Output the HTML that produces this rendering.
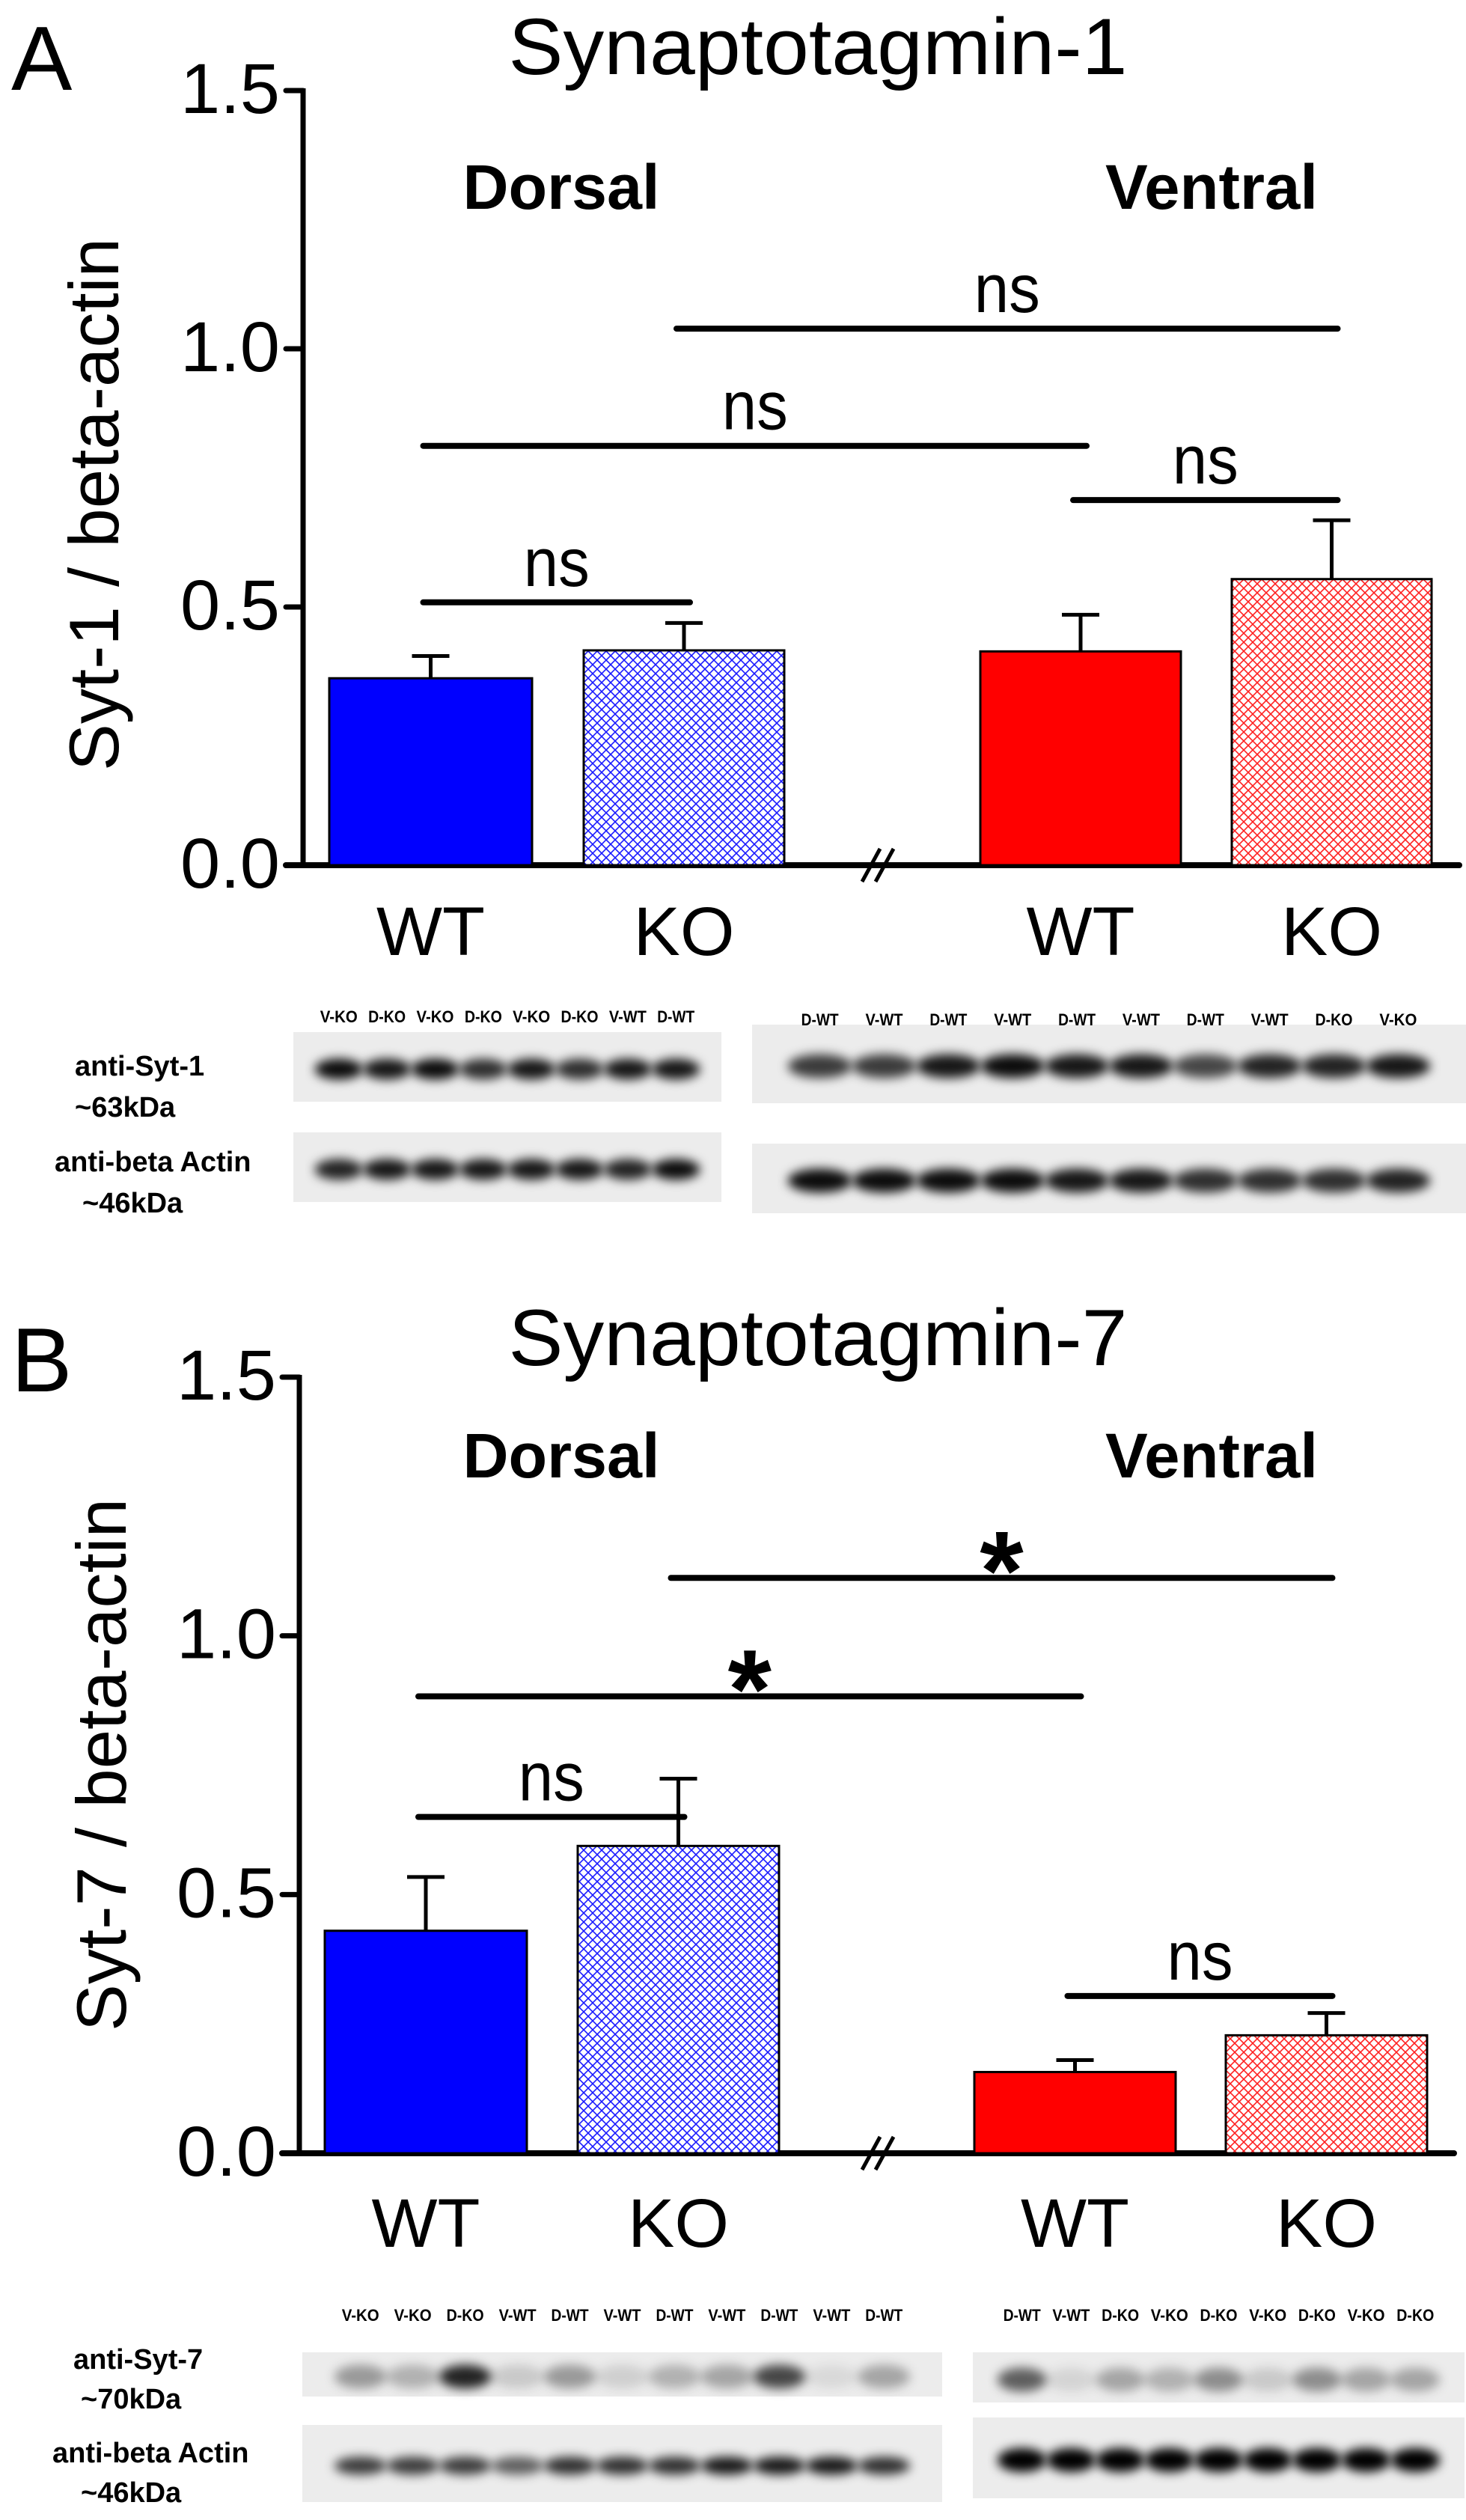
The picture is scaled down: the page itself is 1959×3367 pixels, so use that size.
<!DOCTYPE html>
<html><head><meta charset="utf-8"><style>
html,body{margin:0;padding:0;background:#fff}
svg{display:block}
text{font-family:"Liberation Sans",Arial,sans-serif}
</style></head><body>
<svg id="fig" width="1959" height="3367" viewBox="0 0 1959 3367" xmlns="http://www.w3.org/2000/svg">
<defs>
<pattern id="hatchBlue" width="12" height="12" patternUnits="userSpaceOnUse">
<rect width="12" height="12" fill="#fff"/>
<path d="M0,0L12,12M12,0L0,12" stroke="#1a1aff" stroke-width="1.6"/>
</pattern>
<pattern id="hatchRed" width="12" height="12" patternUnits="userSpaceOnUse">
<rect width="12" height="12" fill="#fff"/>
<path d="M0,0L12,12M12,0L0,12" stroke="#ff2020" stroke-width="1.6"/>
</pattern>
<filter id="blur" x="-20%" y="-60%" width="140%" height="220%"><feGaussianBlur stdDeviation="7"/></filter>
</defs>
<g id="panelA"></g>
<g id="panelB"></g>
</svg>
<script>
// ---- data ----
const groups = ["Dorsal WT","Dorsal KO","Ventral WT","Ventral KO"];
const tickLabels = ["0.0","0.5","1.0","1.5"];
const tickValues = [0,0.5,1.0,1.5];
const syt1Means = [0.362,0.416,0.414,0.554];
const syt1Errors = [0.043,0.053,0.071,0.114];
const syt7Means = [0.430,0.594,0.157,0.228];
const syt7Errors = [0.104,0.130,0.023,0.043];
const syt1Sig = [
  {from:0,to:1,y:0.509,label:"ns"},
  {from:0,to:2,y:0.812,label:"ns"},
  {from:1,to:3,y:1.039,label:"ns"},
  {from:2,to:3,y:0.707,label:"ns"}];
const syt7Sig = [
  {from:0,to:1,y:0.650,label:"ns"},
  {from:0,to:2,y:0.883,label:"*"},
  {from:1,to:3,y:1.112,label:"*"},
  {from:2,to:3,y:0.304,label:"ns"}];
const blotA1Left = ["V-KO","D-KO","V-KO","D-KO","V-KO","D-KO","V-WT","D-WT"];
const blotA1Right = ["D-WT","V-WT","D-WT","V-WT","D-WT","V-WT","D-WT","V-WT","D-KO","V-KO"];
const blotB1Left = ["V-KO","V-KO","D-KO","V-WT","D-WT","V-WT","D-WT","V-WT","D-WT","V-WT","D-WT"];
const blotB1Right = ["D-WT","V-WT","D-KO","V-KO","D-KO","V-KO","D-KO","V-KO","D-KO"];
const bandA_syt_L = [0.95,0.9,0.95,0.8,0.9,0.8,0.9,0.9];
const bandA_syt_R = [0.75,0.75,0.9,0.95,0.9,0.9,0.7,0.85,0.85,0.9];
const bandA_act_L = [0.85,0.9,0.9,0.9,0.9,0.9,0.85,0.95];
const bandA_act_R = [0.95,0.95,0.95,0.95,0.9,0.9,0.8,0.8,0.8,0.85];
const bandB_syt_L = [0.35,0.25,0.85,0.15,0.35,0.12,0.25,0.3,0.7,0.08,0.3];
const bandB_syt_R = [0.6,0.1,0.3,0.25,0.4,0.15,0.4,0.3,0.3];
const bandB_act_L = [0.75,0.75,0.75,0.6,0.8,0.8,0.8,0.9,0.9,0.9,0.8];
const bandB_act_R = [1,1,1,1,1,1,1,1,1];

const NS="http://www.w3.org/2000/svg";
function mk(parent,tag,attrs,txt){const e=document.createElementNS(NS,tag);for(const k in attrs)e.setAttribute(k,attrs[k]);if(txt!==undefined)e.textContent=txt;parent.appendChild(e);return e;}

function drawPanel(g,cfg){
  const y=v=>cfg.y0-(cfg.y0-cfg.y15)*v/1.5;
  const cx=i=>(cfg.barX[i][0]+cfg.barX[i][1])/2;
  let t=mk(g,'text',{x:cfg.letterX,y:cfg.letterY,'font-size':122},cfg.letter);
  
  t=mk(g,'text',{x:1093,y:cfg.titleY,'font-size':107,'text-anchor':'middle',textLength:827,lengthAdjust:'spacingAndGlyphs'},cfg.title);
  
  // y axis
  let l=mk(g,'line',{x1:cfg.axX,y1:y(1.5)-3,x2:cfg.axX,y2:y(0)+3,stroke:'#000','stroke-width':7});
  
  tickValues.forEach((v,i)=>{
    const tk=mk(g,'line',{x1:cfg.tickL,y1:y(v),x2:cfg.axX,y2:y(v),stroke:'#000','stroke-width':7,'stroke-linecap':'round'});
    
    const tl=mk(g,'text',{x:cfg.tickL-8,y:y(v)+30,'font-size':95,'text-anchor':'end',textLength:133,lengthAdjust:'spacingAndGlyphs'},tickLabels[i]);
    
  });
  t=mk(g,'text',{x:0,y:0,'font-size':94,'text-anchor':'middle',textLength:712,lengthAdjust:'spacingAndGlyphs',transform:`translate(${cfg.ylabX},${cfg.ylabY}) rotate(-90)`},cfg.ylabel);
  
  // x axis
  l=mk(g,'line',{x1:cfg.tickL,y1:y(0),x2:cfg.axR,y2:y(0),stroke:'#000','stroke-width':8,'stroke-linecap':'round'});
  
  const bx=1174;
  [-10,8].forEach(d=>{const b=mk(g,'line',{x1:bx+d-12,y1:y(0)+22,x2:bx+d+12,y2:y(0)-22,stroke:'#000','stroke-width':5});
    });
  // bars
  const fills=['#0000ff','url(#hatchBlue)','#ff0000','url(#hatchRed)'];
  cfg.means.forEach((m,i)=>{
    const x0=cfg.barX[i][0],x1=cfg.barX[i][1];
    const top=y(m+cfg.errs[i]);
    const e=mk(g,'line',{x1:cx(i),y1:y(m),x2:cx(i),y2:top,stroke:'#000','stroke-width':5});
    
    const c=mk(g,'line',{x1:cx(i)-25,y1:top,x2:cx(i)+25,y2:top,stroke:'#000','stroke-width':5});
    
    const r=mk(g,'rect',{x:x0,y:y(m),width:x1-x0,height:y(0)-y(m),fill:fills[i],stroke:'#000','stroke-width':3});
    
    const xl=mk(g,'text',{x:cx(i),y:cfg.xlabY,'font-size':92,'text-anchor':'middle',textLength:i%2?135:145,lengthAdjust:'spacingAndGlyphs'},i%2?'KO':'WT');
    
  });
  t=mk(g,'text',{x:750,y:cfg.regY,'font-size':84,'font-weight':'bold','text-anchor':'middle',textLength:263,lengthAdjust:'spacingAndGlyphs'},'Dorsal');
  
  t=mk(g,'text',{x:1619,y:cfg.regY,'font-size':84,'font-weight':'bold','text-anchor':'middle',textLength:284,lengthAdjust:'spacingAndGlyphs'},'Ventral');
  
  // significance
  cfg.sig.forEach(s=>{
    const xa=cx(s.from)-10,xb=cx(s.to)+8;
    const ln=mk(g,'line',{x1:xa,y1:y(s.y),x2:xb,y2:y(s.y),stroke:'#000','stroke-width':8,'stroke-linecap':'round'});
    
    const mid=(xa+xb)/2;
    let lt;
    if(s.label==='ns') lt=mk(g,'text',{x:mid,y:y(s.y)-22,'font-size':92,'text-anchor':'middle',textLength:88,lengthAdjust:'spacingAndGlyphs'},'ns');
    else lt=mk(g,'text',{x:mid,y:y(s.y)+42,'font-size':150,'font-weight':'bold','text-anchor':'middle'},'*');
    
  });
}

function drawBlot(g,x0,x1,y0,y1,bands,lanes,labelY,bandW){
  const r=mk(g,'rect',{x:x0,y:y0,width:x1-x0,height:y1-y0,fill:'#ececec'});
  
  const n=bands.length, pad=(x1-x0)*0.05, w=(x1-x0-2*pad)/n;
  bands.forEach((v,i)=>{
    const cxp=x0+pad+w*(i+0.5);
    const e=mk(g,'ellipse',{cx:cxp,cy:(y0+y1)/2+3,rx:w*0.5,ry:bandW,fill:'#000','fill-opacity':v,filter:'url(#blur)'});
    
  });
  if(lanes){lanes.forEach((s,i)=>{
    const cxp=x0+pad+w*(i+0.5);
    const t=mk(g,'text',{x:cxp,y:labelY,'font-size':22,'font-weight':'bold','text-anchor':'middle',textLength:50,lengthAdjust:'spacingAndGlyphs'},s);
    
  });}
}
function blotLabel(g,x,yy,txt){const t=mk(g,'text',{x:x,y:yy,'font-size':38,'font-weight':'bold'},txt);
  }

const gA=document.getElementById('panelA');
drawPanel(gA,{letter:'A',letterX:15,letterY:120,title:'Synaptotagmin-1',titleY:99,y0:1156,y15:121,axX:405,tickL:382,axR:1950,
  barX:[[440,711],[780,1048],[1310,1578],[1646,1913]],means:syt1Means,errs:syt1Errors,sig:syt1Sig,
  ylabel:'Syt-1 / beta-actin',ylabX:158,ylabY:674,xlabY:1276,regY:279});
drawBlot(gA,392,964,1379,1472,bandA_syt_L,blotA1Left,1366,14);
drawBlot(gA,1005,1959,1369,1474,bandA_syt_R,blotA1Right,1370,16);
drawBlot(gA,392,964,1513,1606,bandA_act_L,null,0,14);
drawBlot(gA,1005,1959,1528,1621,bandA_act_R,null,0,16);
blotLabel(gA,100,1437,'anti-Syt-1');blotLabel(gA,100,1492,'~63kDa');
blotLabel(gA,73,1565,'anti-beta Actin');blotLabel(gA,110,1620,'~46kDa');

const gB=document.getElementById('panelB');
drawPanel(gB,{letter:'B',letterX:15,letterY:1859,title:'Synaptotagmin-7',titleY:1824,y0:2877,y15:1840,axX:400,tickL:377,axR:1943,
  barX:[[434,704],[772,1041],[1302,1571],[1638,1907]],means:syt7Means,errs:syt7Errors,sig:syt7Sig,
  ylabel:'Syt-7 / beta-actin',ylabX:168,ylabY:2358,xlabY:3002,regY:1974});
drawBlot(gB,404,1259,3143,3202,bandB_syt_L,blotB1Left,3101,16);
drawBlot(gB,1300,1957,3143,3210,bandB_syt_R,blotB1Right,3101,16);
drawBlot(gB,404,1259,3240,3343,bandB_act_L,null,0,12);
drawBlot(gB,1300,1957,3230,3338,bandB_act_R,null,0,16);
blotLabel(gB,98,3165,'anti-Syt-7');blotLabel(gB,108,3218,'~70kDa');
blotLabel(gB,70,3290,'anti-beta Actin');blotLabel(gB,108,3343,'~46kDa');
</script>
</body></html>
